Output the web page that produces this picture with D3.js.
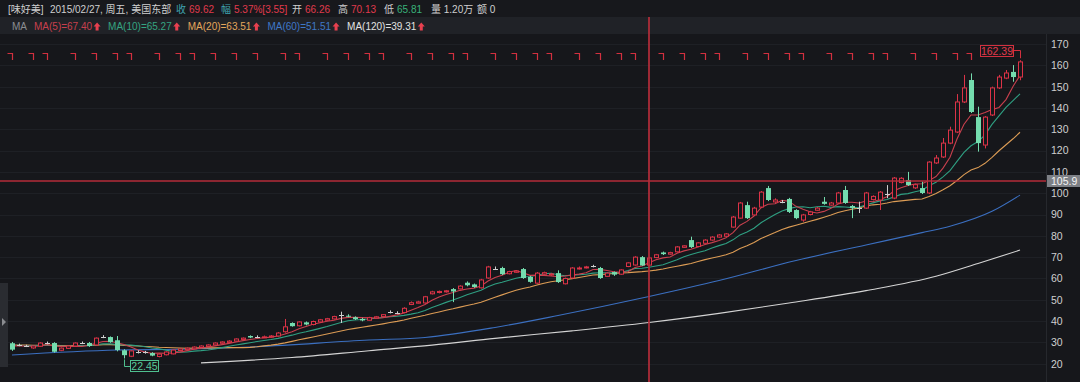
<!DOCTYPE html>
<html><head><meta charset="utf-8">
<script src="https://cdn.jsdelivr.net/npm/d3@7"></script>
<style>
html,body{margin:0;padding:0;background:#16171b;overflow:hidden;}
svg{display:block;font-family:"Liberation Sans",Arial,"Noto Sans CJK SC",sans-serif;}
</style></head><body>
<svg id="chart" width="1080" height="382"></svg>
<script>
// ---------------- data ----------------
const opens = [29.6,28.8,28.3,27.4,28.2,29.7,29.7,26.3,27.2,28.3,29.7,29.7,28.8,32.5,32.5,31.0,26.3,23.5,25.5,25.3,
25.0,23.4,24.2,24.6,26.2,26.6,27.0,27.6,28.1,28.8,29.6,30.0,30.6,31.4,33.0,32.5,32.5,32.5,33.0,35.0,
39.1,37.8,39.4,38.4,39.6,40.4,41.0,42.8,42.5,41.8,41.0,40.4,41.4,42.1,44.2,43.8,44.0,47.8,48.4,48.5,
52.8,53.4,53.7,55.0,55.1,58.0,57.2,55.6,60.2,64.6,64.9,62.2,62.9,64.4,60.7,57.8,62.0,61.6,62.5,57.5,
60.2,64.6,65.0,65.8,64.9,61.0,63.0,62.0,65.6,66.3,70.0,66.26,69.8,72.2,71.4,72.5,74.6,78.0,75.0,76.5,
78.0,79.4,79.8,84.1,88.3,94.4,89.8,93.5,102.4,95.9,96.0,97.3,92.1,87.4,90.0,92.0,96.0,94.4,95.4,101.5,
94.0,93.0,93.0,97.0,96.8,99.6,97.7,105.0,106.2,102.5,102.4,100.1,114.2,117.0,123.5,128.7,142.8,153.1,135.7,122.6,
136.7,149.4,154.0,156.9,154.5];
const highs = [30.2,29.4,28.9,28.6,30.0,30.4,30.1,27.6,28.6,30.0,30.4,30.2,32.3,33.4,32.8,33.0,26.8,26.3,26.3,26.0,
25.4,24.8,25.8,26.6,27.2,27.6,28.1,28.6,29.1,30.0,30.5,31.0,31.9,32.3,33.3,33.3,33.2,33.4,34.8,41.0,
39.4,39.9,39.8,40.2,41.0,41.5,42.5,44.4,43.2,42.2,41.5,42.0,42.4,43.3,45.0,44.6,46.5,49.2,49.5,51.8,
54.2,54.3,54.6,55.5,56.8,58.6,57.6,59.8,65.9,65.6,65.5,63.6,63.9,64.9,61.2,63.0,63.2,62.6,63.8,60.4,
65.3,65.6,65.9,66.4,65.4,62.9,63.3,64.3,67.6,70.4,70.5,70.13,71.5,72.6,72.5,75.2,75.6,79.6,77.0,78.4,
79.8,80.8,81.3,89.3,95.9,96.0,93.6,101.0,103.4,97.6,96.8,97.8,92.5,90.3,91.7,93.5,98.2,95.9,100.6,103.4,
94.5,96.0,100.6,99.0,101.0,103.8,107.6,107.5,110.0,104.5,105.5,115.0,117.9,125.9,131.2,146.5,155.5,156.2,140.6,136.2,
150.0,155.5,157.8,160.1,162.39];
const lows = [26.0,28.2,27.8,27.0,27.9,29.1,25.2,25.9,26.9,28.0,29.2,27.9,28.5,32.0,29.8,25.8,22.45,23.1,24.8,24.7,
23.5,23.0,23.9,24.4,25.9,26.3,26.8,27.3,27.8,28.5,29.2,29.8,30.4,31.1,32.0,32.0,32.1,32.2,32.8,34.6,
37.4,37.5,38.0,38.0,39.3,40.1,40.8,39.1,41.8,40.5,39.9,40.2,41.1,41.8,43.6,43.3,43.7,47.5,48.2,48.2,
52.5,53.0,53.4,48.9,54.9,56.3,55.6,55.3,59.9,64.0,61.6,61.9,62.6,59.8,58.0,57.5,61.7,61.2,57.9,57.2,
59.9,64.2,64.7,65.2,59.8,60.7,61.2,61.7,65.3,66.0,65.9,65.81,69.5,71.0,71.1,72.2,74.3,74.3,74.7,76.2,
77.7,79.1,79.5,83.8,88.0,87.9,89.3,93.0,96.3,95.5,95.3,90.7,87.8,86.6,89.6,91.7,94.6,94.1,95.0,95.0,
88.3,90.7,92.6,96.6,92.1,97.7,97.2,104.6,103.4,102.0,99.6,99.6,113.7,116.5,123.0,128.2,142.3,137.6,119.5,121.0,
136.2,148.9,153.5,152.3,153.0];
const closes = [26.6,28.8,28.3,28.3,29.7,29.7,25.6,27.3,28.3,29.7,29.7,28.3,32.0,32.5,30.1,26.4,24.0,26.0,25.5,25.3,
23.8,24.5,25.5,26.4,26.9,27.3,27.8,28.3,28.8,29.7,30.2,30.6,31.6,32.0,32.3,32.5,32.6,33.0,34.4,37.3,
37.6,39.6,38.4,39.8,40.6,41.1,42.1,42.8,42.1,40.9,40.3,41.6,42.0,43.0,44.2,43.8,46.0,48.6,49.0,51.4,
53.7,53.9,54.2,53.9,56.4,56.8,56.0,59.3,65.4,64.6,62.0,63.2,63.5,60.2,58.4,62.5,62.7,62.1,58.3,60.0,
64.9,64.9,65.4,65.8,60.2,62.5,61.8,64.0,67.31,70.0,66.07,69.62,71.1,71.4,72.1,74.8,75.3,74.7,76.7,78.0,
79.4,80.4,80.9,88.8,95.4,88.3,93.0,100.5,96.8,96.8,96.0,91.2,88.3,89.8,91.2,93.0,95.0,95.4,100.1,95.4,
93.0,93.0,100.1,98.5,100.5,99.6,107.1,107.0,103.8,104.0,100.1,114.6,116.5,123.5,129.6,142.8,149.4,138.1,123.5,135.7,
149.4,154.5,156.4,154.5,161.6];
// closes before the first visible candle (estimated from the flat MA lines at the left edge)
const priorCloses = [28.6,28.9,29.3,28.8,28.4,28.7,29.1,29.4,28.9,28.5,28.3,28.8,29.2,28.9,28.6,28.4,28.9,29.2,28.8];
// long moving averages
const ma60Index  = [0,15,24,35,51,59,69,78,91,101,112,122,130,134,140,144];
const ma60Values = [24.1,26.4,26.8,28.0,31.1,32.3,37.0,42.6,51.51,59.0,68.4,75.7,81.5,84.5,91.5,99.1];
const ma120Index  = [27,40,51,60,69,80,91,101,111,122,132,138,144];
const ma120Values = [20.4,22.9,26.1,28.7,31.9,35.4,39.31,43.6,48.5,54.3,61.0,67.0,73.3];
const markerIndex = [0,3,5,9,12,15,17,21,24,26,29,32,35,39,41,45,48,51,53,57,60,63,65,69,72,75,77,81,84,87,89,
93,96,99,101,105,108,111,113,117,120,123,125,129,132,135,137];
const yTicks = [20,30,40,50,60,70,80,90,100,110,120,130,140,150,160,170];
const crossIndex = 91;
const crossDate = "2015/02/27, 周五, 美国东部";
const stockName = "[味好美]";
const volumeText = "1.20万";
const amountText = "0";
const lastPrice = 105.9;

// ---------------- helpers ----------------
const svg = d3.select("#chart");
const W = 1080, H = 382, plotRight = 1046;
const C = {bg:"#16171b", head:"#17181c", band:"#202227", red:"#dc3347", green:"#74dcae", doji:"#cfcfcf",
  ma5:"#c8404e", ma10:"#2f9f82", ma20:"#dc9c55", ma60:"#3b6fc0", ma120:"#d4d4d4", text:"#cfcfcf", grid:"#1e2025"};

const n = closes.length;
const x = d3.scaleLinear().domain([0, n-1]).range([12, 1020]);
const y = d3.scaleLinear().domain([20, 170]).range([363.7, 44]);

const full = priorCloses.concat(closes);
const P = priorCloses.length;
function ma(period, i){ let s=0; for(let k=i+P-period+1;k<=i+P;k++) s+=full[k]; return s/period; }
const ma5 = d3.range(n).map(i=>ma(5,i));
const ma10 = d3.range(n).map(i=>ma(10,i));
const ma20 = d3.range(n).map(i=>ma(20,i));

// backgrounds
svg.append("rect").attr("width",W).attr("height",H).attr("fill",C.bg);
svg.append("rect").attr("width",W).attr("height",17).attr("fill",C.head);
svg.append("rect").attr("y",17).attr("width",W).attr("height",17).attr("fill",C.band);

// grid
svg.append("g").selectAll("line").data(yTicks).join("line")
  .attr("x1",0).attr("x2",plotRight).attr("y1",d=>Math.round(y(d))+0.5).attr("y2",d=>Math.round(y(d))+0.5)
  .attr("stroke",C.grid).attr("stroke-width",1);

// right axis
svg.append("line").attr("x1",plotRight+0.5).attr("x2",plotRight+0.5).attr("y1",34).attr("y2",H)
  .attr("stroke","#26282d");
const axis = d3.axisRight(y).tickValues(yTicks).tickSize(0).tickPadding(0);
const ag = svg.append("g").attr("transform",`translate(${plotRight+5},0)`).call(axis);
ag.select(".domain").remove();
ag.selectAll("text").attr("fill",C.text).attr("font-size","10.5px").attr("font-family",'"Liberation Sans",Arial,sans-serif');

// MA lines
const line = d3.line().x((d,i)=>x(i)).y(d=>y(d));
const lineS = d3.line().x(d=>x(d[0])).y(d=>y(d[1])).curve(d3.curveMonotoneX);
const lg = svg.append("g").attr("fill","none").attr("stroke-width",1.1);
lg.append("path").attr("d",lineS(ma120Index.map((d,k)=>[d,ma120Values[k]]))).attr("stroke",C.ma120);
lg.append("path").attr("d",lineS(ma60Index.map((d,k)=>[d,ma60Values[k]]))).attr("stroke",C.ma60);
lg.append("path").attr("d",line(ma20)).attr("stroke",C.ma20);
lg.append("path").attr("d",line(ma10)).attr("stroke",C.ma10);
lg.append("path").attr("d",line(ma5)).attr("stroke",C.ma5);

// candles
const cg = svg.append("g");
d3.range(n).forEach(i=>{
  const o=opens[i], c=closes[i], h=highs[i], l=lows[i];
  const xc = Math.round(x(i));
  const flat = o===c, up = c>o;
  const col = flat ? C.doji : up ? C.red : C.green;
  const top = y(Math.max(o,c)), bot = y(Math.min(o,c));
  if(flat){
    cg.append("line").attr("x1",xc+0.5).attr("x2",xc+0.5).attr("y1",y(h)).attr("y2",y(l)).attr("stroke",col);
    const yy = Math.round(top)+0.5;
    cg.append("line").attr("x1",xc-2).attr("x2",xc+3).attr("y1",yy).attr("y2",yy).attr("stroke",col);
  } else if(up){
    cg.append("line").attr("x1",xc+0.5).attr("x2",xc+0.5).attr("y1",y(h)).attr("y2",top).attr("stroke",col);
    cg.append("line").attr("x1",xc+0.5).attr("x2",xc+0.5).attr("y1",bot).attr("y2",y(l)).attr("stroke",col);
    cg.append("rect").attr("x",xc-1.5).attr("y",top).attr("width",4).attr("height",Math.max(1,bot-top))
      .attr("fill",C.bg).attr("stroke",col).attr("stroke-width",1);
  } else {
    cg.append("line").attr("x1",xc+0.5).attr("x2",xc+0.5).attr("y1",y(h)).attr("y2",y(l)).attr("stroke",col);
    cg.append("rect").attr("x",xc-2).attr("y",top).attr("width",5).attr("height",Math.max(1,bot-top)).attr("fill",col);
  }
});

// event markers
svg.append("g").selectAll("path").data(markerIndex).join("path")
  .attr("d",d=>{const xc=Math.round(x(d))+0.5; return `M${xc-5},53.5H${xc}V60`;})
  .attr("fill","none").attr("stroke","#d2303f").attr("stroke-width",1.2);

// crosshair + last price line
const crossCol = "#b52d3a";
svg.append("line").attr("x1",Math.round(x(crossIndex))).attr("x2",Math.round(x(crossIndex)))
  .attr("y1",17).attr("y2",H).attr("stroke",crossCol).attr("stroke-width",1.7);
const yl = Math.round(y(lastPrice));
svg.append("line").attr("x1",0).attr("x2",plotRight).attr("y1",yl).attr("y2",yl).attr("stroke",crossCol).attr("stroke-width",1.7);
svg.append("rect").attr("x",plotRight+1).attr("y",yl-6).attr("width",40).attr("height",12).attr("fill","#7d8086");
svg.append("text").attr("x",plotRight+5).attr("y",yl+4).attr("fill","#f4f4f4").attr("font-size","10.5px")
  .text(lastPrice.toFixed(1));

// min / max labels
const iMin = d3.minIndex(lows), iMax = d3.maxIndex(highs);
{
  const xc = Math.round(x(iMin))+0.5, yb = y(lows[iMin]);
  svg.append("path").attr("d",`M${xc},${yb+1}V366.5H131`).attr("fill","none").attr("stroke","#4fbf8f");
  svg.append("rect").attr("x",130.5).attr("y",360.5).attr("width",28).attr("height",11).attr("fill",C.bg).attr("stroke","#4fbf8f");
  svg.append("text").attr("x",144.5).attr("y",369.5).attr("text-anchor","middle").attr("fill","#59c99a")
    .attr("font-size","10.5px").text(lows[iMin].toFixed(2));
}
{
  const xc = Math.round(x(iMax))+0.5, yt = y(highs[iMax]);
  svg.append("path").attr("d",`M1013,50.5H${xc}V${yt-2}`).attr("fill","none").attr("stroke","#d2303f");
  svg.append("rect").attr("x",980.5).attr("y",45.5).attr("width",33).attr("height",11).attr("fill",C.bg).attr("stroke","#d2303f");
  svg.append("text").attr("x",997).attr("y",54.5).attr("text-anchor","middle").attr("fill","#e03a4c")
    .attr("font-size","10.5px").text(highs[iMax].toFixed(2));
}

// left pull tab
svg.append("rect").attr("x",0).attr("y",283).attr("width",8).attr("height",84).attr("fill","#2a2c31");
svg.append("path").attr("d","M2,318L6,322L2,326Z").attr("fill","#8a8c90");

// header
const hd = svg.append("g").attr("font-size","10px");
const prev = closes[crossIndex-1], cl = closes[crossIndex];
const chg = cl - prev;
const headerItems = [
  {x:8, t:stockName, c:C.text},
  {x:50, t:crossDate, c:C.text},
  {x:176, t:"收", c:"#3fa3b0"}, {x:189, t:cl.toFixed(2), c:"#e03a4c"},
  {x:221, t:"幅", c:"#3fa3b0"}, {x:234, t:(chg/prev*100).toFixed(2)+"%["+chg.toFixed(2)+"]", c:"#e03a4c"},
  {x:292, t:"开", c:C.text}, {x:305, t:opens[crossIndex].toFixed(2), c:"#e03a4c"},
  {x:338, t:"高", c:C.text}, {x:351, t:highs[crossIndex].toFixed(2), c:"#e03a4c"},
  {x:384, t:"低", c:C.text}, {x:397, t:lows[crossIndex].toFixed(2), c:"#39b27a"},
  {x:431, t:"量 "+volumeText, c:C.text},
  {x:477, t:"额 "+amountText, c:C.text}
];
hd.selectAll("text").data(headerItems).join("text").attr("x",d=>d.x).attr("y",13).attr("fill",d=>d.c).text(d=>d.t);

// legend
const lgd = svg.append("g").attr("font-size","10px");
lgd.append("text").attr("x",12).attr("y",30).attr("fill","#8b8d92").text("MA");
const legendItems = [
  {t:"MA(5)="+ma5[crossIndex].toFixed(2), c:"#c8404e"},
  {t:"MA(10)="+ma10[crossIndex].toFixed(2), c:"#35a481"},
  {t:"MA(20)="+ma20[crossIndex].toFixed(2), c:"#e4a75c"},
  {t:"MA(60)="+ma60Values[ma60Index.indexOf(crossIndex)].toFixed(2), c:"#3f78c8"},
  {t:"MA(120)="+ma120Values[ma120Index.indexOf(crossIndex)].toFixed(2), c:"#e2e2e2"}
];
let lx = 34;
legendItems.forEach(d=>{
  const t = lgd.append("text").attr("x",lx).attr("y",30).attr("fill",d.c).text(d.t);
  const w = t.node().getComputedTextLength();
  const ax = lx + w + 2;
  lgd.append("path").attr("d",`M${ax+3},22.5L${ax+6.5},26.5H${ax+4.5}V30.5H${ax+1.5}V26.5H${ax-0.5}Z`).attr("fill","#e8404f");
  lx = ax + 14;
});
</script>
</body></html>
